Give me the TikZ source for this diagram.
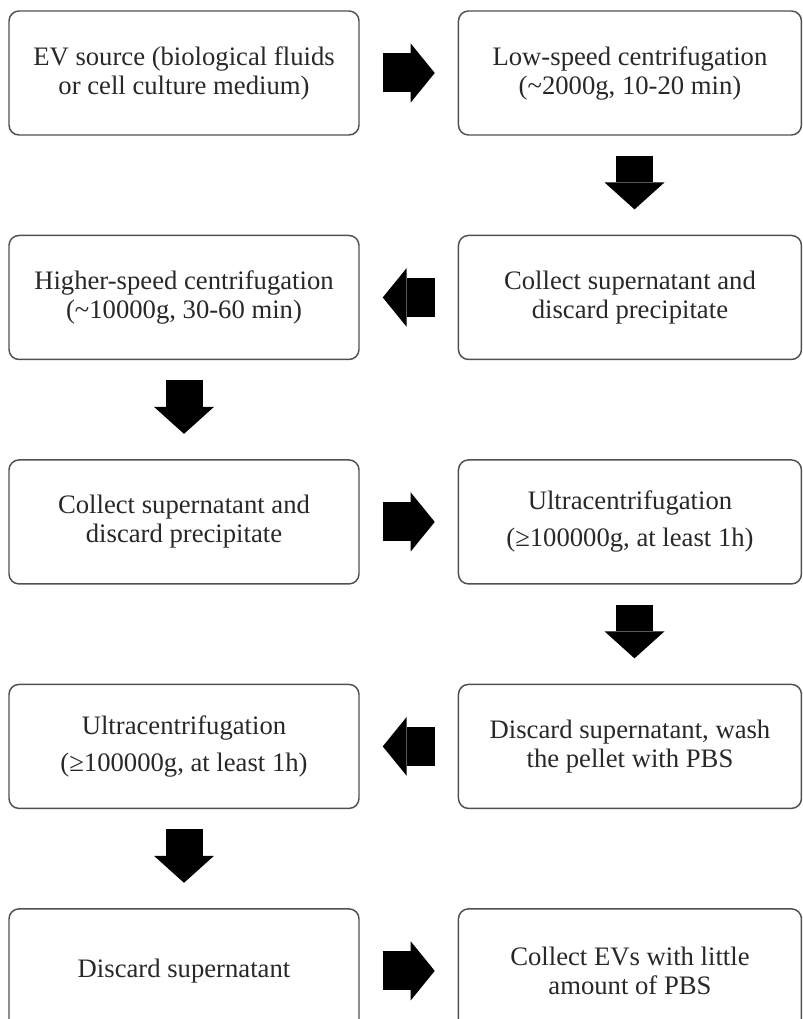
\documentclass[tikz,border=0pt]{standalone}
\usepackage{fontspec}
\setmainfont{Liberation Serif}
\usepackage{tikz}
\usetikzlibrary{arrows.meta,positioning}
\definecolor{boxline}{RGB}{80,80,80}
\definecolor{boxtext}{RGB}{40,40,40}

\begin{document}
\begin{tikzpicture}[
  node distance=74.25pt and 73.5pt,
  box/.style={draw=boxline, line width=1.1pt, rounded corners=7.5pt, align=center,
    minimum width=262.5pt, minimum height=93pt, inner sep=0pt, text=boxtext,
    font=\fontsize{20}{21.75}\selectfont},
  rbox/.style={box, minimum width=257.25pt},
  harr/.style={line width=29.25pt, -{Triangle[length=18pt, width=44.25pt, line width=0pt]},
    shorten <=17.25pt, shorten >=17.25pt},
  varr/.style={line width=27.75pt, -{Triangle[length=20.25pt, width=45pt, line width=0pt]},
    shorten <=15pt, shorten >=19pt}
]
\useasboundingbox (0,0) rectangle (601.5pt,-764.25pt);
\node[box] (src) at (138pt,-54.75pt) {EV source (biological fluids\\or cell culture medium)};
\node[rbox, right=of src] (lowspin) {Low-speed centrifugation\\(\textasciitilde2000g, 10-20 min)};
\node[rbox, below=of lowspin] (sup1) {Collect supernatant and\\discard precipitate};
\node[box, left=of sup1] (highspin) {Higher-speed centrifugation\\(\textasciitilde10000g, 30-60 min)};
\node[box, below=of highspin] (sup2) {Collect supernatant and\\discard precipitate};
\node[rbox, right=of sup2] (ultra1) {Ultracentrifugation\\[6pt](≥100000g, at least 1h)};
\node[rbox, below=of ultra1] (wash) {Discard supernatant, wash\\the pellet with PBS};
\node[box, left=of wash] (ultra2) {Ultracentrifugation\\[6pt](≥100000g, at least 1h)};
\node[box, below=of ultra2] (discard) {Discard supernatant};
\node[rbox, right=of discard] (evs) {Collect EVs with little\\amount of PBS};
\draw[harr] (src) -- (lowspin);
\draw[varr] ([xshift=3.4pt]lowspin.south) -- ([xshift=3.4pt]sup1.north);
\draw[harr] (sup1) -- (highspin);
\draw[varr] (highspin.south) -- (sup2.north);
\draw[harr] (sup2) -- (ultra1);
\draw[varr] ([xshift=3.4pt]ultra1.south) -- ([xshift=3.4pt]wash.north);
\draw[harr] (wash) -- (ultra2);
\draw[varr] (ultra2.south) -- (discard.north);
\draw[harr] (discard) -- (evs);
\end{tikzpicture}
\end{document}
